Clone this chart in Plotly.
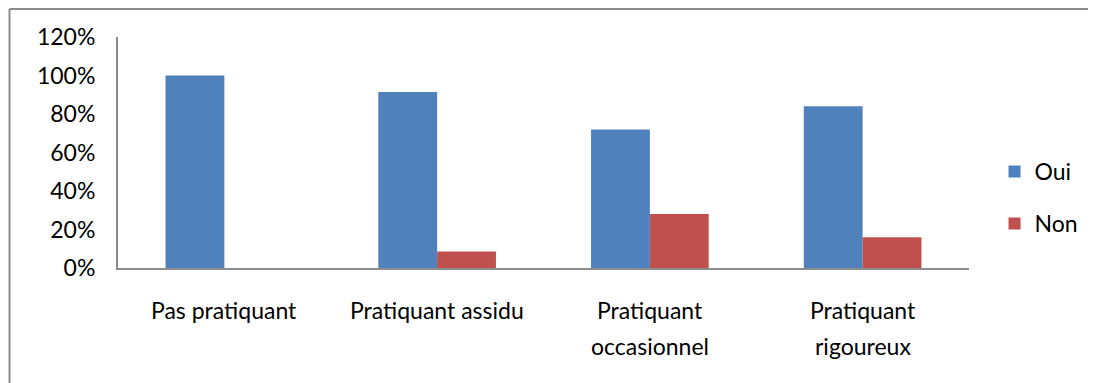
import plotly.graph_objects as go

categories = ["Pas pratiquant", "Pratiquant assidu", "Pratiquant occasionnel", "Pratiquant rigoureux"]
label_lines = [["Pas pratiquant"], ["Pratiquant assidu"], ["Pratiquant", "occasionnel"], ["Pratiquant", "rigoureux"]]
oui = [1.00, 0.914, 0.72, 0.84]
non = [0.0, 0.086, 0.28, 0.16]
y_ticks = [0, 0.2, 0.4, 0.6, 0.8, 1.0, 1.2]

FONT = "Lato"
W, H = 1088, 375
L, R, T, B = 110, 123, 29, 115
PW, PH = W - L - R, H - T - B

fig = go.Figure()
fig.add_trace(go.Bar(x=categories, y=oui, name="Oui", marker=dict(color="#4f81bd", line=dict(width=0)),
                     legendgroup="a"))
fig.add_trace(go.Bar(x=categories, y=non, name="Non", marker=dict(color="#c0504d", line=dict(width=0)),
                     legendgroup="b"))

annotations = []
for cat, lines in zip(categories, label_lines):
    for i, line in enumerate(lines):
        annotations.append(dict(x=cat, y=-0.183 - i * 0.156, xref="x", yref="paper", text=line,
                                showarrow=False, xanchor="center", yanchor="middle",
                                font=dict(family=FONT, size=23, color="#000000")))

bx = (-1 - L) / PW * -1 * -1  # left border position in paper coords
bx = (1 - L) / PW
by = (H - B - 1) / PH

fig.update_layout(
    width=W, height=H,
    margin=dict(l=L, r=R, t=T, b=B),
    paper_bgcolor="white", plot_bgcolor="white",
    barmode="group", bargap=0.447, bargroupgap=0,
    font=dict(family=FONT, size=23, color="#000000"),
    showlegend=True,
    legend=dict(x=1.030, xanchor="left", y=0.305, yanchor="middle", traceorder="grouped",
                tracegroupgap=19, font=dict(family=FONT, size=23, color="#000000"),
                bgcolor="rgba(0,0,0,0)"),
    xaxis=dict(showticklabels=False, showline=True, linecolor="#8c8c8c", linewidth=2,
               ticks="", showgrid=False, zeroline=False),
    yaxis=dict(range=[0, 1.2], tickvals=y_ticks, tickformat=".0%", showline=True,
               linecolor="#8c8c8c", linewidth=2, ticks="", showgrid=False, zeroline=False,
               ticklabelstandoff=16),
    annotations=annotations,
    shapes=[
        dict(type="line", xref="paper", yref="paper", x0=bx, x1=1.2, y0=by, y1=by,
             line=dict(color="#8c8c8c", width=2)),
        dict(type="line", xref="paper", yref="paper", x0=bx, x1=bx, y0=by, y1=-0.6,
             line=dict(color="#8c8c8c", width=2)),
    ],
)

fig.write_html("out.html")
